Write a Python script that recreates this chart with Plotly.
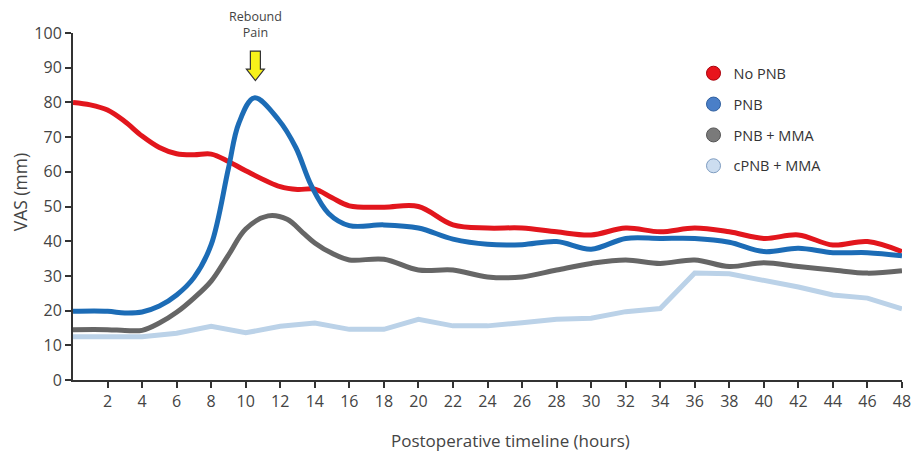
import plotly.graph_objects as go

# ---- data ----
red_hours = [0, 1, 2, 3, 4, 5, 6, 7, 8, 9, 10, 12, 13, 14, 15, 16, 18, 20, 22, 24, 26, 28, 30, 32, 34, 36, 38, 40, 42, 44, 46, 48]
red_vas = [80, 79.3, 77.8, 74.5, 70.3, 67, 65.2, 64.9, 65.1, 63, 60.3, 55.7, 54.9, 55, 52.5, 50.2, 49.8, 50, 44.7, 43.8, 43.8, 42.7, 41.8, 43.8, 42.7, 43.8, 42.7, 40.8, 41.8, 38.9, 39.9, 37]

blue_hours = [0, 2, 3, 4, 5, 6, 7, 8, 9, 9.6, 10.5, 11.9, 12.9, 13.8, 14.8, 16, 18, 20, 22, 24, 26, 28, 30, 32, 34, 36, 38, 40, 42, 44, 46, 48]
blue_vas = [19.8, 19.8, 19.3, 19.6, 21.3, 24.5, 29.5, 39, 61, 74, 81.3, 75, 67, 56, 48, 44.5, 44.7, 43.8, 40.6, 39.1, 39, 39.9, 37.7, 40.8, 40.8, 40.8, 39.7, 37, 38, 36.7, 36.7, 35.8]

gray_hours = [0, 2, 3, 4, 5, 6, 7, 8, 9, 10, 11.3, 12.4, 13.3, 14, 15, 16, 18, 20, 22, 24, 26, 28, 30, 32, 34, 36, 38, 40, 42, 44, 46, 48]
gray_vas = [14.5, 14.5, 14.3, 14.3, 16.4, 19.5, 23.6, 28.5, 36, 43.5, 47.3, 46.3, 42.5, 39.5, 36.5, 34.6, 34.8, 31.7, 31.7, 29.7, 29.7, 31.7, 33.6, 34.6, 33.6, 34.6, 32.7, 33.8, 32.7, 31.7, 30.8, 31.5]

light_hours = [0, 2, 4, 6, 8, 10, 12, 14, 16, 18, 20, 22, 24, 26, 28, 30, 32, 34, 36, 38, 40, 42, 44, 46, 48]
light_vas = [12.5, 12.5, 12.5, 13.5, 15.5, 13.6, 15.5, 16.4, 14.6, 14.6, 17.5, 15.6, 15.6, 16.5, 17.5, 17.8, 19.7, 20.6, 30.8, 30.6, 28.8, 26.8, 24.5, 23.6, 20.5]

series_names = ["No PNB", "PNB", "PNB + MMA", "cPNB + MMA"]
line_colors = ["#E2161D", "#1C6CB6", "#666666", "#BBD2E8"]
legend_fill = ["#E8141C", "#4A7FC8", "#7A7A7A", "#CCDDF0"]
legend_edge = ["#A8000A", "#2F5F9F", "#555555", "#7E9CC0"]

x_ticks = list(range(2, 49, 2))
y_ticks = list(range(0, 101, 10))

FONT = "Open Sans, Noto Sans, sans-serif"
TXT = "#444444"

fig = go.Figure()

data = [(red_hours, red_vas, "spline"), (blue_hours, blue_vas, "spline"),
        (gray_hours, gray_vas, "spline"), (light_hours, light_vas, "linear")]

# draw light blue first so others sit above it
order = [3, 2, 0, 1]
for i in order:
    hx, vy, shape = data[i]
    fig.add_trace(go.Scatter(
        x=hx, y=vy, mode="lines", name=series_names[i], showlegend=False,
        line=dict(color=line_colors[i], width=5, shape=shape, smoothing=1.0),
        hoverinfo="skip"))

# legend entries as ellipse-like markers
for i in range(4):
    fig.add_trace(go.Scatter(
        x=[None], y=[None], mode="markers", name=series_names[i],
        legendgroup=series_names[i],
        marker=dict(symbol="circle", size=14, color=legend_fill[i],
                    line=dict(color=legend_edge[i], width=1))))

# yellow down arrow (rebound pain marker)
cx = 10.56
hw_s, hw_h = 0.29, 0.52
y_top, y_neck, y_tip = 94.8, 89.6, 86.3
path = (f"M {cx-hw_s},{y_top} L {cx+hw_s},{y_top} L {cx+hw_s},{y_neck} "
        f"L {cx+hw_h},{y_neck} L {cx},{y_tip} L {cx-hw_h},{y_neck} "
        f"L {cx-hw_s},{y_neck} Z")
fig.add_shape(type="path", path=path, xref="x", yref="y",
              fillcolor="#F7F21A", line=dict(color="#333333", width=1.2))

fig.add_annotation(text="Rebound<br>Pain", x=cx, xref="x", y=1.025, yref="paper",
                   yanchor="middle", showarrow=False,
                   font=dict(family=FONT, size=12.5, color=TXT))

fig.add_annotation(text="Postoperative timeline (hours)", xref="paper", yref="paper",
                   x=0.5275, y=-0.173, xanchor="center", yanchor="middle",
                   showarrow=False, font=dict(family=FONT, size=17, color=TXT))
fig.add_annotation(text="VAS (mm)", xref="paper", yref="paper",
                   x=-0.0635, y=0.542, xanchor="center", yanchor="middle",
                   textangle=-90, showarrow=False,
                   font=dict(family=FONT, size=17.5, color=TXT))

fig.update_layout(
    width=915, height=445,
    margin=dict(l=65, r=15, t=25, b=73),
    paper_bgcolor="white", plot_bgcolor="white",
    font=dict(family=FONT, color=TXT),
    showlegend=True,
    legend=dict(x=0.7485, y=0.93, xanchor="left", yanchor="top",
                bgcolor="rgba(255,255,255,0)", tracegroupgap=9,
                traceorder="grouped",
                font=dict(family=FONT, size=14.5, color="#333333")),
    xaxis=dict(range=[0, 48], tickvals=x_ticks, ticktext=[str(v) for v in x_ticks],
               showgrid=False, zeroline=False, showline=True,
               linecolor="#333333", linewidth=2, ticks="outside", ticklen=6,
               tickwidth=2, tickcolor="#333333",
               tickfont=dict(family=FONT, size=16, color=TXT)),
    yaxis=dict(range=[0, 100], tickvals=y_ticks,
               showgrid=False, zeroline=False, showline=True,
               linecolor="#333333", linewidth=2, ticks="outside", ticklen=6,
               tickwidth=2, tickcolor="#333333",
               tickfont=dict(family=FONT, size=16, color=TXT)),
)

fig.write_html("out.html")
